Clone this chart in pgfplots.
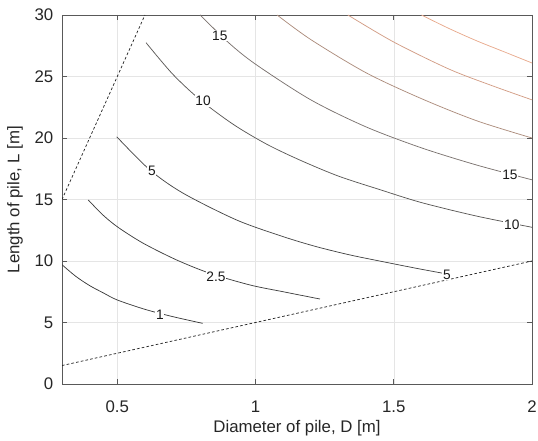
\documentclass[border=0pt]{standalone}
\usepackage{pgfplots}
\pgfplotsset{compat=1.18}
\usepackage{fontspec}
\setmainfont{Liberation Sans}

\definecolor{c1}{HTML}{3A3A3A}
\definecolor{c2}{HTML}{3F3F3F}
\definecolor{c5}{HTML}{474747}
\definecolor{c10}{HTML}{5A5856}
\definecolor{c15}{HTML}{7A726E}
\definecolor{c20}{HTML}{AC8C7C}
\definecolor{c25}{HTML}{D29C84}
\definecolor{c30}{HTML}{E8A98C}

\begin{document}
\begin{tikzpicture}
\begin{axis}[
  width=352.5pt, height=276.75pt, scale only axis,
  xmin=0.3, xmax=2, ymin=0, ymax=30,
  xtick={0.5,1,1.5,2}, ytick={0,5,...,30},
  grid=major,
  major grid style={black!10, line width=0.4pt},
  axis line style={black!65, line width=0.5pt},
  tick style={black!65, line width=0.5pt},
  tick align=inside, major tick length=3.75pt,
  ticklabel style={font=\fontsize{12.6}{14}\selectfont, text=black!85},
  xticklabel style={anchor=base, yshift=-21.5pt},
  yticklabel style={anchor=east, inner xsep=0pt, xshift=-6.3pt},
  /pgf/number format/assume math mode=true,
  xlabel={Diameter of pile, D [m]},
  ylabel={Length of pile, L [m]},
  label style={font=\fontsize{12.6}{14}\selectfont, text=black!85},
  xlabel style={at={(rel axis cs:0.5,0)}, anchor=base, yshift=-36.75pt},
  ylabel style={at={(rel axis cs:0,0.5)}, anchor=center, yshift=35.25pt},
  every axis plot/.append style={line width=0.55pt, smooth},
]
% limit lines L = 5D and L = 50D
\addplot[black!85, dash pattern=on 2pt off 1.6pt, line width=0.55pt, sharp plot] coordinates {(0.3,1.5) (2,10)};
\addplot[black!85, dash pattern=on 2pt off 1.6pt, line width=0.55pt, sharp plot] coordinates {(0.3,15) (0.6,30)};

% contours
\addplot[c1] coordinates {(0.3,9.7) (0.35,8.75) (0.4,8.0) (0.45,7.4) (0.5,6.83) (0.6,6.07) (0.7,5.48) (0.809,4.93)};
\addplot[c2] coordinates {(0.395,14.96) (0.449,13.72) (0.504,12.72) (0.594,11.44) (0.715,10.08) (0.835,9.0) (0.98,8.05) (1.10,7.5) (1.233,6.91)};
\addplot[c5] coordinates {(0.498,20.1) (0.618,17.4) (0.739,15.5) (0.932,13.33) (1.10,11.98) (1.221,11.16) (1.342,10.49) (1.462,9.94) (1.583,9.4) (1.679,9.0)};
\addplot[c10] coordinates {(0.604,27.75) (0.7,25.2) (0.8,23.1) (0.92,21.1) (1.04,19.5) (1.161,18.2) (1.3,16.9) (1.45,15.8) (1.6,14.75) (1.8,13.65) (2.0,12.74)};
\addplot[c15] coordinates {(0.8,30) (0.9,27.8) (1.0,26.0) (1.2,23.1) (1.4,20.9) (1.6,19.2) (1.8,17.8) (2.0,16.6)};
\addplot[c20] coordinates {(1.078,30) (1.2,28.0) (1.4,25.3) (1.6,23.2) (1.8,21.4) (2.0,20.0)};
\addplot[c25] coordinates {(1.334,30) (1.5,27.8) (1.7,25.6) (1.85,24.3) (2.0,23.1)};
\addplot[c30] coordinates {(1.6,30) (1.7,28.9) (1.8,27.9) (1.9,27.0) (2.0,26.1)};

% contour labels
\tikzset{clab/.style={fill=white, inner sep=0.6pt, text=black!90, font=\fontsize{10.3}{12}\selectfont}}
\node[clab] at (axis cs:0.654,5.65) {1};
\node[clab] at (axis cs:0.857,8.7) {2.5};
\node[clab] at (axis cs:0.625,17.3) {5};
\node[clab] at (axis cs:1.692,8.9) {5};
\node[clab] at (axis cs:0.81,23.0) {10};
\node[clab] at (axis cs:1.927,12.95) {10};
\node[clab] at (axis cs:0.871,28.3) {15};
\node[clab] at (axis cs:1.92,17.0) {15};
\end{axis}
\pgfresetboundingbox
\path ([xshift=-46.5pt,yshift=-42.75pt]current axis.south west) rectangle ([xshift=4.5pt,yshift=11.25pt]current axis.north east);
\end{tikzpicture}
\end{document}
